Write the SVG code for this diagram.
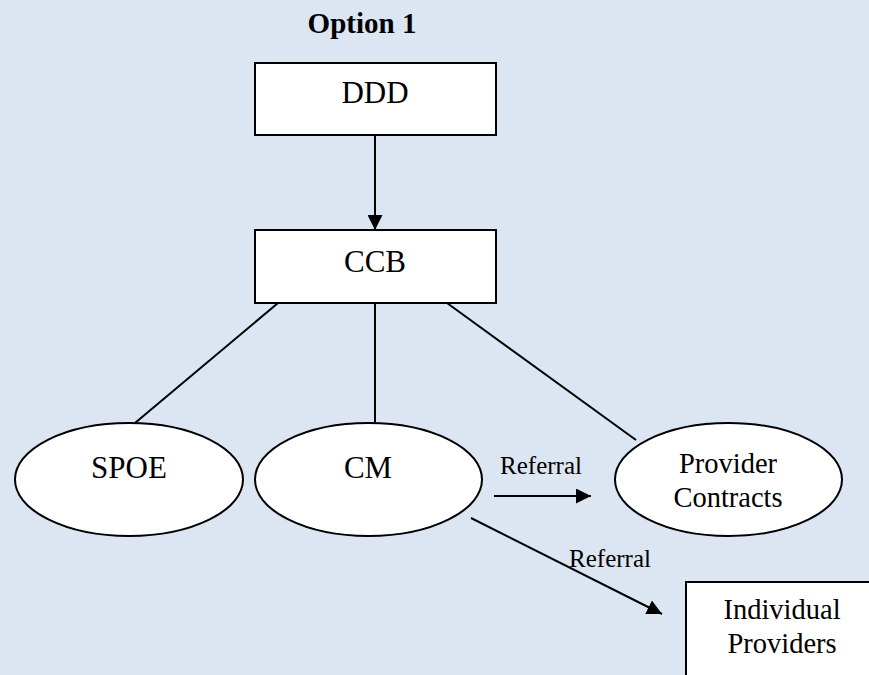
<svg xmlns="http://www.w3.org/2000/svg" width="869" height="675" viewBox="0 0 869 675">
<style>
.box{fill:#fff;stroke:#000;stroke-width:2}
.ln{stroke:#000;stroke-width:2;fill:none}
text{font-family:"Liberation Serif","Times New Roman",serif;fill:#000;text-anchor:middle}
.lbl{font-size:31px}
.sm{font-size:28.5px}
.ref{font-size:25px}
</style>
<defs>
<marker id="ah" markerWidth="15" markerHeight="15" refX="15" refY="7.5" orient="auto" markerUnits="userSpaceOnUse">
<path d="M0,0 L15,7.5 L0,15 Z" fill="#000"/>
</marker>
</defs>
<rect x="0" y="0" width="869" height="675" fill="#dce6f2"/>
<text x="362" y="33" style="font-size:29px;font-weight:bold">Option 1</text>
<g id="connectors">
<line class="ln" x1="375" y1="135" x2="375" y2="230" marker-end="url(#ah)"/>
<line class="ln" x1="278" y1="303" x2="135" y2="423"/>
<line class="ln" x1="375" y1="303" x2="375" y2="423"/>
<line class="ln" x1="447" y1="303" x2="636" y2="440"/>
<line class="ln" x1="494" y1="496" x2="591" y2="496" marker-end="url(#ah)"/>
<line class="ln" x1="471" y1="518" x2="662" y2="614" marker-end="url(#ah)"/>
<text class="ref" x="541" y="474">Referral</text>
<text class="ref" x="610" y="567">Referral</text>
</g>
<g id="ddd">
<rect class="box" x="255" y="63" width="241" height="72"/>
<text class="lbl" x="375" y="103">DDD</text>
</g>
<g id="ccb">
<rect class="box" x="255" y="230" width="241" height="73"/>
<text class="lbl" x="375" y="272">CCB</text>
</g>
<g id="spoe">
<ellipse class="box" cx="129" cy="479.5" rx="114" ry="56.5"/>
<text class="lbl" x="129" y="478">SPOE</text>
</g>
<g id="cm">
<ellipse class="box" cx="368.5" cy="479.5" rx="113.5" ry="56.5"/>
<text class="lbl" x="368" y="478">CM</text>
</g>
<g id="provider-contracts">
<ellipse class="box" cx="728.5" cy="479.5" rx="113.5" ry="56.5"/>
<text class="sm" x="728" y="473">Provider</text>
<text class="sm" x="728" y="507">Contracts</text>
</g>
<g id="individual-providers">
<rect class="box" x="686" y="582" width="200" height="110"/>
<text class="sm" x="782" y="619">Individual</text>
<text class="sm" x="782" y="653">Providers</text>
</g>
</svg>
